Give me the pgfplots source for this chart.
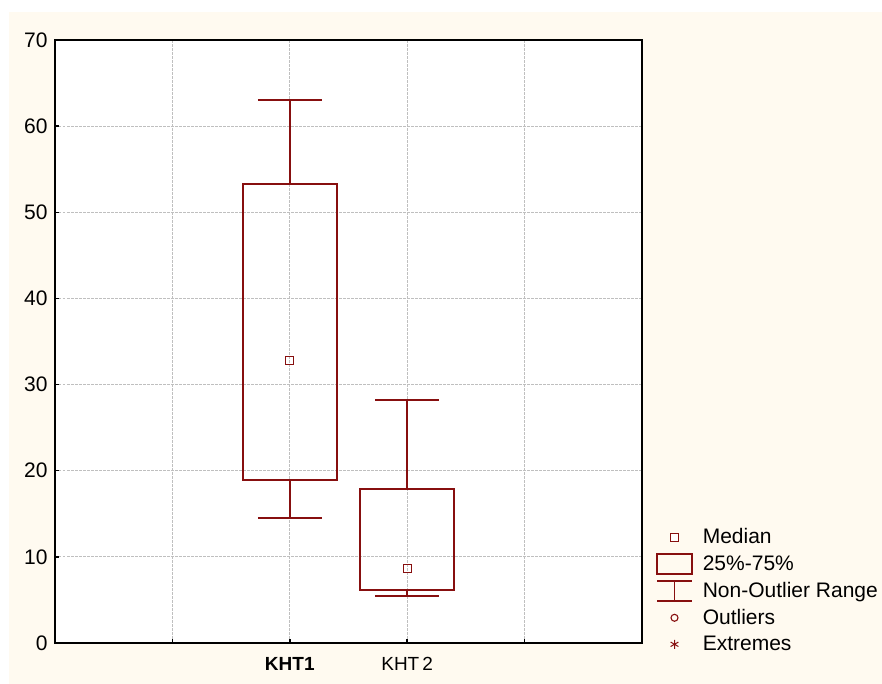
\documentclass[border=0pt]{standalone}
\usepackage{fontspec}
\setmainfont{Liberation Sans}
\usepackage{pgfplots}
\pgfplotsset{compat=1.18}
\definecolor{dred}{RGB}{135,15,15}
\definecolor{cream}{RGB}{255,250,240}
\begin{document}
\begin{tikzpicture}[x=1pt,y=1pt]
\useasboundingbox (0,0) rectangle (882,684);
\fill[cream] (9,0) rectangle (882,672);
\begin{axis}[at={(55pt,41pt)}, anchor=south west, scale only axis,
  width=587pt, height=603pt,
  xmin=0, xmax=5, ymin=0, ymax=70,
  xtick={1,2,3,4}, xticklabels={,\textbf{KHT1},KHT\,2,},
  ytick={0,10,...,70},
  axis background/.style={fill=white},
  axis line style={line width=1.8pt, black},
  tick style={black, line width=1.5pt},
  major tick length=4pt,
  xtick pos=bottom, ytick pos=left, tick align=inside,
  grid=major,
  major grid style={gray!50, dash pattern=on 2.5pt off 1.5pt, line width=0.8pt},
  /pgf/number format/assume math mode=true,
  yticklabel style={font=\fontsize{21}{24}\selectfont, xshift=-4pt},
  xticklabel style={font=\fontsize{19}{22}\selectfont, yshift=-11pt},
  legend cell align=left,
  legend style={draw=none, fill=none, at={(axis description cs:1,0)}, anchor=south west, xshift=14pt, yshift=-12pt,
    font=\fontsize{21}{24}\selectfont, row sep=5.5pt, inner sep=0pt,
    /tikz/every odd column/.append style={column sep=8pt}},
  every axis plot/.append style={dred, line width=1.6pt, line join=miter},
]
% KHT1
\addplot[forget plot] coordinates {(1.6,18.9) (2.4,18.9) (2.4,53.3) (1.6,53.3) (1.6,18.9) (2.4,18.9)};
\addplot[forget plot] coordinates {(2,53.3) (2,63.0)};
\addplot[forget plot] coordinates {(1.7275,63.0) (2.2725,63.0)};
\addplot[forget plot] coordinates {(2,18.9) (2,14.5)};
\addplot[forget plot] coordinates {(1.7275,14.5) (2.2725,14.5)};
\addplot[forget plot, only marks, mark=square, mark size=4pt, mark options={line width=0.9pt, fill=white}] coordinates {(2,32.85)};
% KHT2
\addplot[forget plot] coordinates {(2.6,6.15) (3.4,6.15) (3.4,17.9) (2.6,17.9) (2.6,6.15) (3.4,6.15)};
\addplot[forget plot] coordinates {(3,17.9) (3,28.2)};
\addplot[forget plot] coordinates {(2.7275,28.2) (3.2725,28.2)};
\addplot[forget plot] coordinates {(3,6.15) (3,5.45)};
\addplot[forget plot] coordinates {(2.7275,5.45) (3.2725,5.45)};
\addplot[forget plot, only marks, mark=square, mark size=4pt, mark options={line width=0.9pt, fill=white}] coordinates {(3,8.7)};
% legend
\addlegendimage{legend image code/.code={\path[draw=none,fill=none] (0pt,-10.5pt) rectangle (35pt,10.5pt); \draw[dred,line width=0.9pt,fill=white] (13.5pt,-4pt) rectangle (21.5pt,4pt);}}
\addlegendentry{Median}
\addlegendimage{legend image code/.code={\path[draw=none,fill=none] (0pt,-10.5pt) rectangle (35pt,10.5pt); \draw[dred,line width=1.6pt,fill=none] (0pt,-10pt) rectangle (35pt,10pt);}}
\addlegendentry{25\%-75\%}
\addlegendimage{legend image code/.code={\path[draw=none,fill=none] (0pt,-10.5pt) rectangle (35pt,10.5pt); \draw[dred,line width=1.6pt] (0pt,10pt)--(35pt,10pt) (17.5pt,10pt)--(17.5pt,-10pt) (0pt,-10pt)--(35pt,-10pt);}}
\addlegendentry{Non-Outlier Range}
\addlegendimage{legend image code/.code={\path[draw=none,fill=none] (0pt,-10.5pt) rectangle (35pt,10.5pt); \draw[dred,line width=1.1pt,fill=none] (17.5pt,0pt) circle (3.5pt);}}
\addlegendentry{Outliers}
\addlegendimage{legend image code/.code={\path[draw=none,fill=none] (0pt,-10.5pt) rectangle (35pt,10.5pt); \draw[dred,line width=1pt] (17.5pt,4.5pt)--(17.5pt,-4.5pt) (13.6pt,2.25pt)--(21.4pt,-2.25pt) (13.6pt,-2.25pt)--(21.4pt,2.25pt);}}
\addlegendentry{Extremes}
\end{axis}
\end{tikzpicture}
\end{document}
